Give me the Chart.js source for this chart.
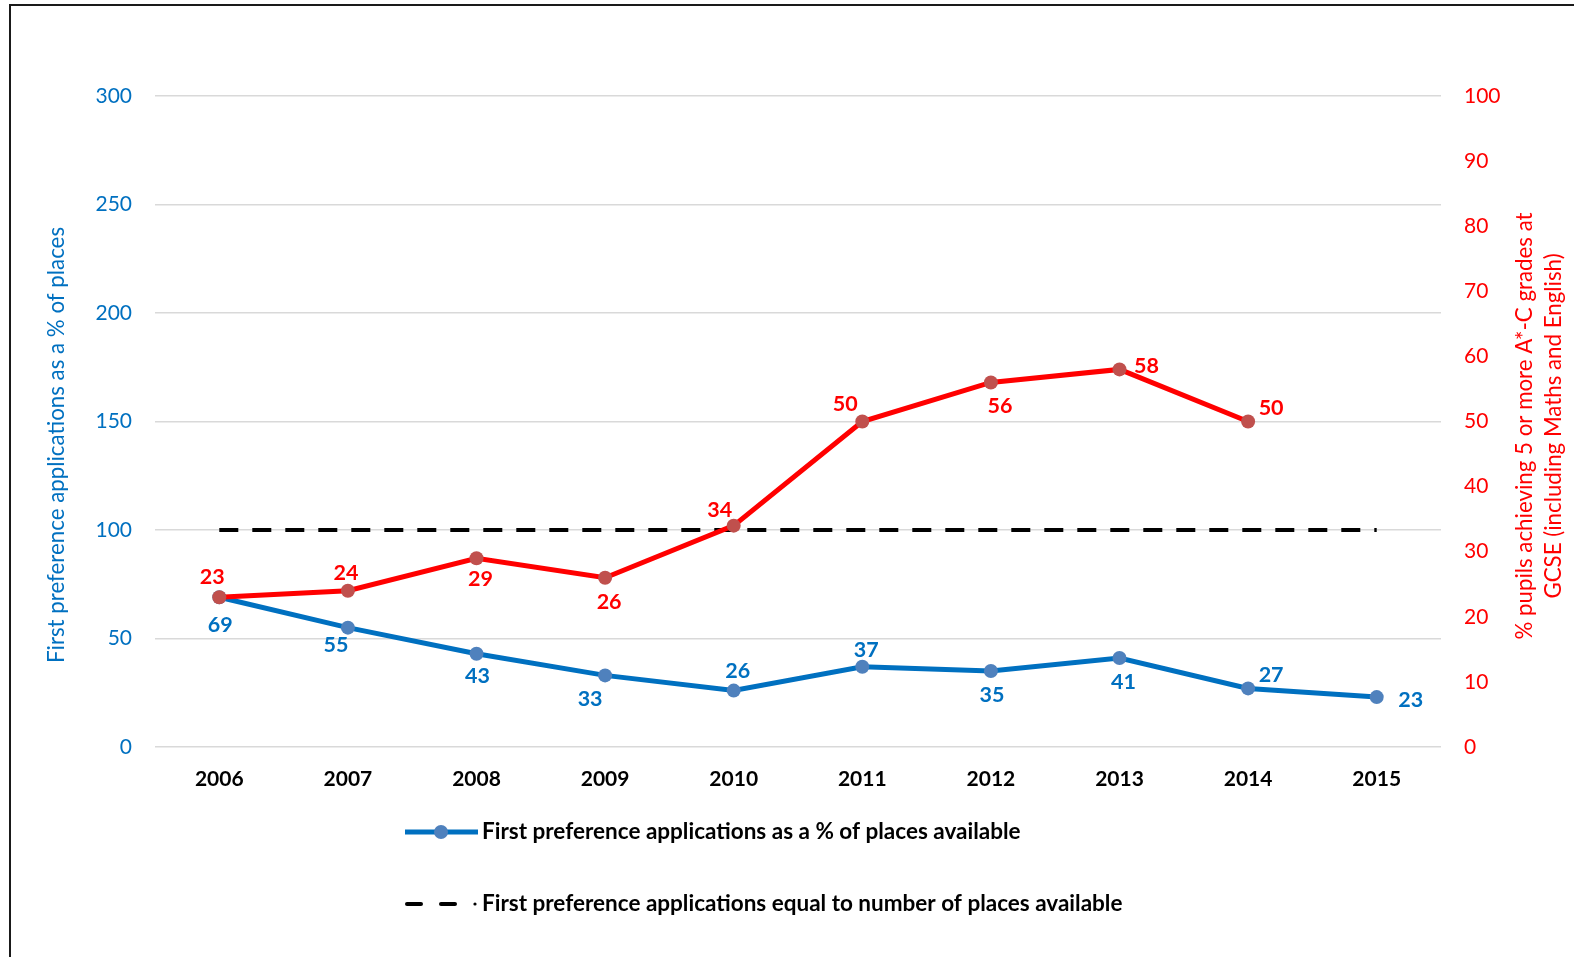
<!DOCTYPE html>
<html>
<head>
<meta charset="utf-8">
<script src="https://cdn.jsdelivr.net/npm/chart.js@4.4.0/dist/chart.umd.min.js"></script>
<style>
  html, body { margin: 0; padding: 0; background: #fff; overflow: hidden; }
  #wrap { position: absolute; left: 0; top: 0; width: 1574px; height: 957px; }
</style>
</head>
<body>
<div id="wrap"><canvas id="c" width="1574" height="957"></canvas></div>
<script>
// ---- DATA ----
const years = ['2006','2007','2008','2009','2010','2011','2012','2013','2014','2015'];
const firstPrefPct = [69, 55, 43, 33, 26, 37, 35, 41, 27, 23];
const gcsePct = [23, 24, 29, 26, 34, 50, 56, 58, 50, null];
const parityLine = [100, 100, 100, 100, 100, 100, 100, 100, 100, 100];
const leftTicks = [0, 50, 100, 150, 200, 250, 300];
const rightTicks = [0, 10, 20, 30, 40, 50, 60, 70, 80, 90, 100];

const seriesNames = {
  firstPref: 'First preference applications as a % of places available',
  parity: 'First preference applications equal to number of places available',
  gcse: '% pupils achieving 5 or more A*-C grades at GCSE (including Maths and English)'
};
const leftTitle = 'First preference applications as a % of places';
const rightTitleLines = ['% pupils achieving 5 or more A*-C grades at', 'GCSE (including Maths and English)'];

// ---- STYLE (label offsets relative to points) ----
const blueLabelOffsets = [[1,28],[-12,17],[1,22],[-15,24],[4,-20],[4,-17],[1,24],[4,24],[23,-13],[34,3]];
const redLabelOffsets  = [[-7,-20],[-2,-18],[4,21],[4,24],[-14,-16],[-17,-17],[9,24],[27,-3],[23,-13],[0,0]];

const BLUE = '#0070C0', BLUE_MK = '#4F81BD', RED = '#FF0000', RED_MK = '#C0504D';
const FONT = 'Lato, "Open Sans", sans-serif';

const decorPlugin = {
  id: 'decor',
  beforeDraw(chart) {
    const ctx = chart.ctx;
    ctx.save();
    ctx.fillStyle = '#fff';
    ctx.fillRect(0, 0, chart.width, chart.height);
    ctx.fillStyle = '#1a1a1a';
    ctx.fillRect(9, 4, 2, chart.height);
    ctx.fillRect(9, 4, chart.width, 2);
    ctx.restore();
  },
  afterDatasetsDraw(chart) {
    const ctx = chart.ctx;
    ctx.save();
    ctx.font = 'bold 21.5px ' + FONT;
    ctx.textAlign = 'center';
    ctx.textBaseline = 'middle';
    const draw = (dsIndex, values, offs, color) => {
      const meta = chart.getDatasetMeta(dsIndex);
      ctx.fillStyle = color;
      meta.data.forEach((pt, i) => {
        if (values[i] == null) return;
        ctx.fillText(String(values[i]), pt.x + offs[i][0], pt.y + offs[i][1]);
      });
    };
    draw(0, firstPrefPct, blueLabelOffsets, BLUE);
    draw(2, gcsePct, redLabelOffsets, RED);
    ctx.restore();
  },
  afterDraw(chart) {
    const ctx = chart.ctx;
    ctx.save();
    // Axis titles
    ctx.font = '22.3px ' + FONT;
    ctx.textAlign = 'center';
    ctx.textBaseline = 'middle';
    ctx.fillStyle = BLUE;
    ctx.translate(57, 445);
    ctx.rotate(-Math.PI / 2);
    ctx.fillText(leftTitle, 0, 0);
    ctx.setTransform(1, 0, 0, 1, 0, 0);
    ctx.fillStyle = RED;
    const rx = [1525, 1554];
    rightTitleLines.forEach((t, i) => {
      ctx.save();
      ctx.translate(rx[i], 426);
      ctx.rotate(-Math.PI / 2);
      ctx.fillText(t, 0, 0);
      ctx.restore();
    });
    // Legend
    ctx.font = 'bold 22.5px ' + FONT;
    ctx.textAlign = 'left';
    // item 1
    ctx.strokeStyle = BLUE;
    ctx.lineWidth = 5;
    ctx.beginPath(); ctx.moveTo(405, 832); ctx.lineTo(478, 832); ctx.stroke();
    ctx.fillStyle = BLUE_MK;
    ctx.beginPath(); ctx.arc(441, 832, 7, 0, Math.PI * 2); ctx.fill();
    ctx.fillStyle = '#000';
    ctx.fillText(seriesNames.firstPref, 482, 832);
    // item 2
    ctx.strokeStyle = '#000';
    ctx.lineWidth = 4;
    ctx.lineCap = 'round';
    ctx.beginPath(); ctx.moveTo(407, 904); ctx.lineTo(421, 904); ctx.stroke();
    ctx.beginPath(); ctx.moveTo(441, 904); ctx.lineTo(455, 904); ctx.stroke();
    ctx.beginPath(); ctx.arc(475, 904, 1.6, 0, Math.PI * 2); ctx.fillStyle = '#000'; ctx.fill();
    ctx.fillText(seriesNames.parity, 482, 904);
    ctx.restore();
  }
};

new Chart(document.getElementById('c'), {
  type: 'line',
  data: {
    labels: years,
    datasets: [
      {
        label: seriesNames.firstPref,
        data: firstPrefPct,
        yAxisID: 'y',
        borderColor: BLUE,
        backgroundColor: BLUE_MK,
        pointBackgroundColor: BLUE_MK,
        pointBorderColor: BLUE_MK,
        borderWidth: 5,
        pointRadius: 7,
        pointBorderWidth: 0,
        tension: 0,
        order: 2
      },
      {
        label: seriesNames.parity,
        data: parityLine,
        yAxisID: 'y',
        borderColor: '#000',
        borderWidth: 4,
        borderDash: [19, 14],
        pointRadius: 0,
        tension: 0,
        order: 1
      },
      {
        label: seriesNames.gcse,
        data: gcsePct,
        yAxisID: 'y1',
        borderColor: RED,
        backgroundColor: RED_MK,
        pointBackgroundColor: RED_MK,
        pointBorderColor: RED_MK,
        borderWidth: 5,
        pointRadius: 7,
        pointBorderWidth: 0,
        tension: 0,
        spanGaps: false,
        order: 0
      }
    ]
  },
  options: {
    responsive: false,
    animation: false,
    devicePixelRatio: 1,
    layout: { padding: { left: 0, right: 0, top: 96, bottom: 160 } },
    plugins: {
      legend: { display: false },
      tooltip: { enabled: false },
      title: { display: false }
    },
    scales: {
      x: {
        type: 'category',
        offset: true,
        grid: { display: false, drawTicks: false },
        border: { display: false },
        ticks: { color: '#000', font: { family: FONT, size: 21, weight: 'bold' }, padding: 20, maxRotation: 0 },
        afterFit: (s) => { s.height = 50; }
      },
      y: {
        position: 'left',
        min: 0, max: 300,
        afterBuildTicks: (s) => { s.ticks = leftTicks.map(v => ({ value: v })); },
        grid: { color: '#D9D9D9', lineWidth: 1.5, drawTicks: false },
        border: { display: false },
        ticks: { color: BLUE, font: { family: FONT, size: 21 }, padding: 23 },
        afterFit: (s) => { s.width = 155; }
      },
      y1: {
        position: 'right',
        min: 0, max: 100,
        afterBuildTicks: (s) => { s.ticks = rightTicks.map(v => ({ value: v })); },
        grid: { display: false, drawTicks: false },
        border: { display: false },
        ticks: { color: RED, font: { family: FONT, size: 21 }, padding: 23 },
        afterFit: (s) => { s.width = 133; }
      }
    }
  },
  plugins: [decorPlugin]
});
</script>
</body>
</html>
